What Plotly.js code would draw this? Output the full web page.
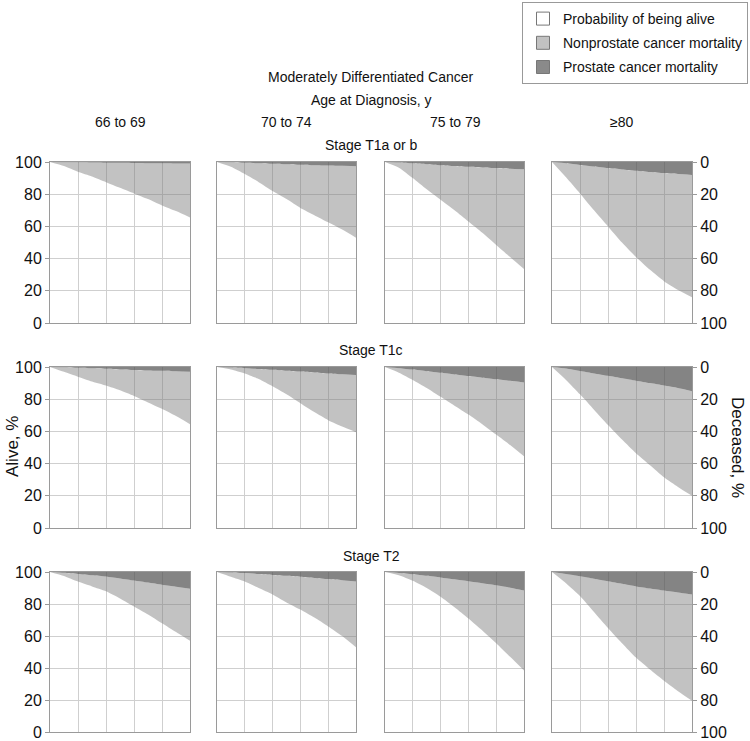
<!DOCTYPE html>
<html>
<head>
<meta charset="utf-8">
<script src="https://cdn.plot.ly/plotly-3.0.1.min.js"></script>
<style>
  body { margin: 0; background: #fff; }
  #chart { width: 750px; height: 741px; }
</style>
</head>
<body>
<div id="chart"></div>
<script>
// years of follow-up (x axis, no labels in the figure)
var years = [0, 1, 2, 3, 4, 5, 6, 7, 8, 9, 10];
var ageGroups = ['66 to 69', '70 to 74', '75 to 79', '\u226580'];
var stages = ['Stage T1a or b', 'Stage T1c', 'Stage T2'];

// probability of being alive, % (one array per age group)
var aliveT1ab = [
  [100, 97.5, 94, 91, 87.5, 84, 80.5, 77, 73, 69.5, 65.5],
  [100, 97, 92.5, 87.5, 82, 77, 71.5, 67, 62.5, 58, 53],
  [100, 96.5, 90, 83, 76.5, 70, 63, 56, 48.5, 41, 33.5],
  [100, 90.5, 80.5, 70, 60, 50, 41, 33, 26, 20.5, 16]
];
var aliveT1c = [
  [100, 97, 94, 91, 88.5, 85.5, 82, 78, 74, 69.5, 64.5],
  [100, 98.5, 96, 92.5, 88, 83, 77.5, 72, 67, 63, 59.5],
  [100, 96.5, 92, 87, 81.5, 76, 70.5, 64.5, 58, 51.5, 44.5],
  [100, 92, 83, 73.5, 64, 55, 46.5, 39, 31.5, 25.5, 20]
];
var aliveT2 = [
  [100, 97.5, 94, 91, 88, 83.5, 78.5, 73.5, 68, 62.5, 57],
  [100, 97, 94, 90, 86, 81, 76.5, 71.5, 66, 60, 53],
  [100, 98, 94.5, 90, 84.5, 78, 71, 63.5, 55.5, 47, 38.5],
  [100, 93, 85, 75, 65, 55.5, 46.5, 39, 32, 25.5, 19.5]
];

// prostate cancer mortality, %
var prostT1ab = [
  [0, 0.1, 0.2, 0.3, 0.4, 0.5, 0.6, 0.7, 0.8, 0.9, 1.0],
  [0, 0.2, 0.5, 0.8, 1.1, 1.4, 1.7, 2.0, 2.2, 2.4, 2.6],
  [0, 0.3, 0.8, 1.4, 2, 2.5, 3, 3.4, 3.8, 4.2, 4.5],
  [0, 0.8, 1.8, 2.8, 3.8, 4.6, 5.4, 6.2, 6.9, 7.5, 8]
];
var prostT1c = [
  [0, 0.2, 0.5, 0.8, 1.1, 1.5, 1.8, 2.1, 2.4, 2.7, 3.0],
  [0, 0.3, 0.7, 1.2, 1.7, 2.3, 2.8, 3.4, 4.0, 4.5, 5.0],
  [0, 0.7, 1.6, 2.6, 3.6, 4.6, 5.6, 6.6, 7.6, 8.6, 9.7],
  [0, 1.0, 2.5, 4.0, 5.5, 7.0, 8.5, 10, 11.5, 13, 15]
];
var prostT2 = [
  [0, 0.5, 1.2, 2, 2.8, 4, 5.3, 6.6, 8, 9.2, 10.4],
  [0, 0.3, 0.7, 1.2, 1.8, 2.4, 3, 3.7, 4.4, 5.1, 5.9],
  [0, 0.6, 1.4, 2.4, 3.4, 4.6, 5.8, 7.0, 8.3, 9.8, 11.5],
  [0, 1.3, 2.7, 4.2, 5.8, 7.4, 9, 10.3, 11.6, 12.8, 14]
];

var yTickVals = [0, 20, 40, 60, 80, 100];
var deceasedLabels = ['100', '80', '60', '40', '20', '0'];

var alive = [aliveT1ab, aliveT1c, aliveT2];
var prost = [prostT1ab, prostT1c, prostT2];

var W = 750, H = 741;
var colPx = [[50, 190], [217, 356], [385, 524], [552, 692]];
var rowPx = [[162, 323], [367, 528], [572, 732]];

var fnt = 'Liberation Sans, Arial, sans-serif';
var txtCol = '#111';
var lightFill = 'rgba(120,120,120,0.45)';
var darkFill = 'rgba(85,85,85,0.72)';

var data = [];
var layout = {
  width: W, height: H,
  margin: {l: 0, r: 0, t: 0, b: 0},
  paper_bgcolor: '#fff',
  plot_bgcolor: '#fff',
  font: {family: fnt, size: 14, color: txtCol},
  showlegend: true,
  legend: {
    x: 748 / W, xanchor: 'right', y: 1 - 2 / H, yanchor: 'top',
    bordercolor: '#999', borderwidth: 1, bgcolor: '#fff',
    font: {family: fnt, size: 14, color: txtCol},
    tracegroupgap: 3, itemwidth: 30
  },
  annotations: []
};

for (var r = 0; r < 3; r++) {
  for (var c = 0; c < 4; c++) {
    var n = r * 4 + c + 1;
    var xa = n === 1 ? 'x' : 'x' + n;
    var ya = n === 1 ? 'y' : 'y' + n;
    var sg = 'p' + n;
    var a = alive[r][c];
    var p = prost[r][c];
    var other = [];
    for (var i = 0; i < years.length; i++) {
      other.push(100 - a[i] - p[i]);
    }
    data.push({x: years, y: a, xaxis: xa, yaxis: ya, type: 'scatter', mode: 'lines',
      stackgroup: sg, line: {width: 0, color: '#fff', shape: 'spline', smoothing: 0.6},
      fillcolor: 'rgba(0,0,0,0)', showlegend: false, hoverinfo: 'skip'});
    data.push({x: years, y: other, xaxis: xa, yaxis: ya, type: 'scatter', mode: 'lines',
      stackgroup: sg, line: {width: 0, color: '#aaa', shape: 'spline', smoothing: 0.6},
      fillcolor: lightFill, showlegend: false, hoverinfo: 'skip'});
    data.push({x: years, y: p, xaxis: xa, yaxis: ya, type: 'scatter', mode: 'lines',
      stackgroup: sg, line: {width: 0, color: '#777'}, fillcolor: darkFill,
      showlegend: false, hoverinfo: 'skip'});

    var xKey = n === 1 ? 'xaxis' : 'xaxis' + n;
    var yKey = n === 1 ? 'yaxis' : 'yaxis' + n;
    layout[xKey] = {
      domain: [colPx[c][0] / W, colPx[c][1] / W],
      anchor: ya, range: [0, 10], dtick: 2, tick0: 0,
      showticklabels: false, ticks: '',
      showgrid: true, gridcolor: '#cfcfcf', gridwidth: 1,
      showline: true, mirror: true, linecolor: '#9a9a9a', linewidth: 1,
      zeroline: false, fixedrange: true
    };
    var yax = {
      domain: [1 - rowPx[r][1] / H, 1 - rowPx[r][0] / H],
      anchor: xa, range: [0, 100],
      tickmode: 'array', tickvals: yTickVals,
      showgrid: true, gridcolor: '#cfcfcf', gridwidth: 1,
      showline: true, mirror: true, linecolor: '#9a9a9a', linewidth: 1,
      zeroline: false, fixedrange: true,
      tickfont: {family: fnt, size: 16, color: txtCol},
      showticklabels: false, ticks: ''
    };
    if (c === 0) {
      yax.showticklabels = true;
      yax.ticks = 'outside'; yax.ticklen = 4; yax.tickcolor = '#9a9a9a';
      yax.side = 'left';
    }
    if (c === 3) {
      yax.showticklabels = true;
      yax.ticks = 'outside'; yax.ticklen = 4; yax.tickcolor = '#9a9a9a';
      yax.side = 'right';
      yax.ticktext = deceasedLabels;
    }
    layout[yKey] = yax;
  }
}

// legend entries
var legendNames = ['Probability of being alive', 'Nonprostate cancer mortality', 'Prostate cancer mortality'];
var legendColors = ['#ffffff', '#c2c2c2', '#8a8a8a'];
for (var k = 0; k < 3; k++) {
  data.push({x: [null], y: [null], xaxis: 'x', yaxis: 'y', type: 'scatter', mode: 'markers',
    name: legendNames[k], legendgroup: 'g' + k, showlegend: true,
    marker: {symbol: 'square', size: 13, color: legendColors[k], line: {color: '#777', width: 1}}});
}

function addText(txt, px, py, opts) {
  var ann = {text: txt, x: px / W, y: 1 - py / H, xref: 'paper', yref: 'paper',
    showarrow: false, xanchor: 'center', yanchor: 'middle',
    font: {family: fnt, size: 14, color: txtCol}};
  for (var key in opts) ann[key] = opts[key];
  layout.annotations.push(ann);
}

addText('Moderately Differentiated Cancer', 371, 77);
addText('Age at Diagnosis, y', 371, 100);
var headX = [120, 286, 455, 621];
for (var j = 0; j < 4; j++) addText(ageGroups[j], headX[j], 122);
var stageY = [145, 350, 556];
for (var s = 0; s < 3; s++) addText(stages[s], 371, stageY[s]);
addText('Alive, %', 12, 447, {textangle: -90, font: {family: fnt, size: 17, color: txtCol}});
addText('Deceased, %', 738, 447, {textangle: 90, font: {family: fnt, size: 17, color: txtCol}});

Plotly.newPlot('chart', data, layout, {displayModeBar: false, staticPlot: true});
</script>
</body>
</html>
